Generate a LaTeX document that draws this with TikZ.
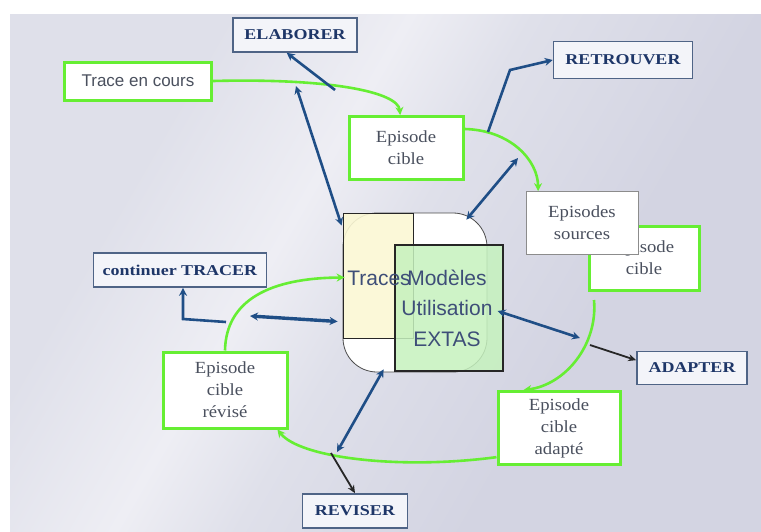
\documentclass[tikz,border=0pt]{standalone}
\usepackage{fontspec}
\setmainfont{Liberation Serif}
\newfontfamily\capfont[FakeStretch=1.2]{Liberation Serif}
\newfontfamily\epfont[FakeStretch=1.1]{Liberation Serif}
\newfontfamily\corefont{Liberation Sans}
\usetikzlibrary{arrows.meta,calc}

\definecolor{bgA}{HTML}{D3D4E2}
\definecolor{bgB}{HTML}{DFE0EA}
\definecolor{bgC}{HTML}{EEEEF4}
\definecolor{boxgreen}{HTML}{66EE33}
\definecolor{linkblue}{HTML}{1F4E86}
\definecolor{capblue}{HTML}{1E3668}
\definecolor{frameblue}{HTML}{4F6486}
\definecolor{capfill}{HTML}{F3F4F9}
\definecolor{eptext}{HTML}{4A505E}
\definecolor{coretext}{HTML}{3E4E78}
\definecolor{yellowpane}{HTML}{FBF8D4}
\definecolor{greenpane}{HTML}{C6F2BE}

\pgfdeclarehorizontalshading{bgband}{100bp}{color(0bp)=(bgB); color(30bp)=(bgB); color(42bp)=(bgC); color(50bp)=(bgB); color(65bp)=(bgA); color(100bp)=(bgA)}

\begin{document}
\begin{tikzpicture}[x=1pt,y=1pt,
  capbox/.style={draw=frameblue, line width=1.6pt, fill=capfill, text=capblue,
    font=\capfont\bfseries\fontsize{15}{17}\selectfont, inner sep=0pt},
  epbox/.style={draw=boxgreen, line width=3pt, fill=white, text=eptext, align=center,
    font=\epfont\fontsize{17}{22}\selectfont, inner sep=0pt},
  srcbox/.style={draw=black!45, line width=0.8pt, fill=white, text=eptext, align=center,
    font=\epfont\fontsize{17}{22}\selectfont, inner sep=0pt},
  coretxt/.style={font=\corefont\fontsize{21}{24}\selectfont, text=coretext, inner sep=0pt, anchor=base},
  flow/.style={draw=boxgreen, line width=2.6pt, -{Stealth[length=8pt,width=8pt]}},
  link/.style={draw=linkblue, line width=2.6pt},
  blacklink/.style={draw=black!85, line width=1.8pt, -{Stealth[length=8pt,width=7pt]}},
  tip/.style={-{Stealth[length=8pt,width=8pt]}},
  tips/.style={{Stealth[length=8pt,width=8pt]}-{Stealth[length=8pt,width=8pt]}}
]
\useasboundingbox (0,0) rectangle (761,-531);
\fill[white] (0,0) rectangle (761,-531);
\shade[shading=bgband, shading angle=-30] (10,-14) rectangle (761,-531);

% outer steps
\node[capbox, minimum width=124pt, minimum height=34pt] (elab) at (295,-35) {ELABORER};
\node[epbox, minimum width=147pt, minimum height=38pt, font=\corefont\fontsize{17}{19}\selectfont] (trace) at (138,-81) {Trace en cours};
\node[capbox, minimum width=139pt, minimum height=37pt] (retr) at (623,-60) {RETROUVER};
\node[epbox, minimum width=114pt, minimum height=63pt] (epc) at (406,-148) {Episode\\cible};
\node[epbox, minimum width=110pt, minimum height=64pt] (epr) at (644,-258) {Episode\\cible};
\node[srcbox, minimum width=112pt, minimum height=63pt] (eps) at (582,-223) {Episodes\\sources};
\node[capbox, minimum width=173pt, minimum height=34pt] (cont) at (180,-270) {continuer TRACER};
\node[epbox, minimum width=124pt, minimum height=76pt] (revb) at (225,-390) {Episode\\cible\\révisé};
\node[epbox, minimum width=122pt, minimum height=73pt] (adpb) at (559,-428) {Episode\\cible\\adapté};
\node[capbox, minimum width=110pt, minimum height=33pt] (adapt) at (692,-368) {ADAPTER};
\node[capbox, minimum width=105pt, minimum height=34pt] (revs) at (355,-511) {REVISER};

% central block
\node[draw=black!70, line width=0.8pt, fill=white, rounded corners=34pt,
  minimum width=144pt, minimum height=159pt, inner sep=0pt] (core) at (415,-292.5) {};
\node[draw=black!85, line width=0.9pt, fill=yellowpane, fill opacity=0.9,
  minimum width=70pt, minimum height=125pt, inner sep=0pt] (trpane) at (378,-275.5) {};
\node[draw=black!85, line width=1.3pt, fill=greenpane, fill opacity=0.85,
  minimum width=108pt, minimum height=126pt, inner sep=0pt] (mdpane) at (449,-308) {};
\node[coretxt] (ttr) at (379,-285.5) {Traces};
\node[coretxt] (tmd) at (447,-285.5) {Modèles};
\node[coretxt] (tut) at (447,-315.5) {Utilisation};
\node[coretxt] (tex) at (447,-346.5) {EXTAS};

% free ends of the links
\coordinate (eA) at (335,-90);
\coordinate (eB) at (296,-86);
\coordinate (rA) at (488,-132);
\coordinate (rK) at (510,-70);
\coordinate (sA) at (518,-158);
\coordinate (cA) at (226,-322);
\coordinate (cK) at (183,-319);
\coordinate (tA) at (250,-316);
\coordinate (aA) at (580,-338);
\coordinate (aB) at (590,-345);
\coordinate (vA) at (337,-452);
\coordinate (vB) at (331,-453);
\coordinate (gA) at (594,-300);

% green cycle
\draw[flow] (trace.east) .. controls (330,-78) and (398,-92) .. (epc.100);
\draw[flow] (epc.18) .. controls (510,-130) and (538,-160) .. (eps.144);
\draw[flow] (gA) .. controls (598,-345) and (565,-385) .. (adpb.133);
\draw[flow] (adpb.205) .. controls (400,-470) and (300,-458) .. (revb.-37);
\draw[flow] (revb.north) .. controls (226,-300) and (270,-278) .. ($(core.west)+(2,15)$);

% blue links
\draw[link, tip] (eA) -- (elab.-115);
\draw[link, tips] (eB) -- ($(core.north west)+(-1,-13)$);
\draw[link, tip] (rA) -- (rK) -- (retr.west);
\draw[link, tips] (sA) -- ($(core.north east)+(-21,-7)$);
\draw[link, tip] (cA) -- (cK) -- (cK |- cont.south);
\draw[link, line width=3.4pt, tips] (tA) -- ($(core.west)+(-5,-29)$);
\draw[link, tips] ($(mdpane.east)+(-6,-3)$) -- (aA);
\draw[blacklink] (aB) -- (adapt.172);
\draw[link, tips] ($(core.south west)+(41,3)$) -- (vA);
\draw[blacklink] (vB) -- (revs.north);
\end{tikzpicture}
\end{document}
